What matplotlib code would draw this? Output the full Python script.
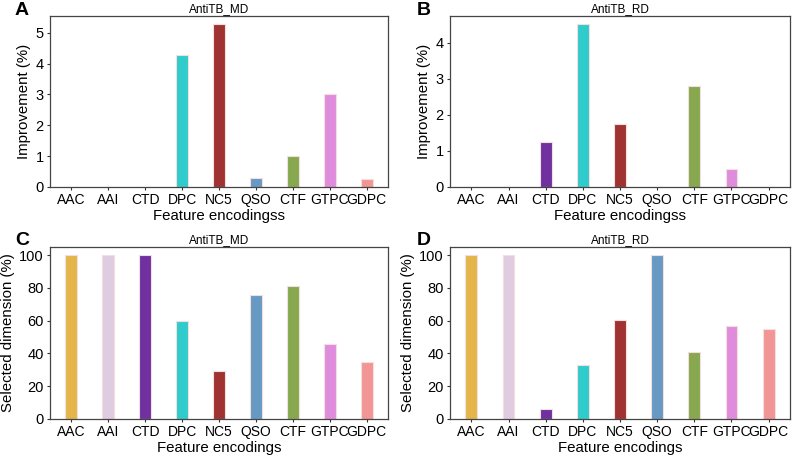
import matplotlib.pyplot as plt
import numpy as np

plt.rcParams['font.family'] = ['Liberation Sans', 'DejaVu Sans']

encodings = ['AAC', 'AAI', 'CTD', 'DPC', 'NC5', 'QSO', 'CTF', 'GTPC', 'GDPC']
colors = ['#E3B54A', '#DFCCE0', '#7030A0', '#30CCCC', '#A03232',
          '#6699C4', '#88A84F', '#E08CDC', '#F29595']

improve_md = [0, 0, 0, 4.27, 5.28, 0.30, 1.00, 3.00, 0.25]
improve_rd = [0, 0, 1.26, 4.52, 1.76, 0, 2.80, 0.50, 0]
dim_md = [100, 100, 100, 60, 29, 76, 81, 45.5, 35]
dim_rd = [100, 100, 6, 33, 60.5, 100, 41, 56.5, 55]

fig = plt.figure(figsize=(7.93, 4.57), dpi=100)

W, H = 793, 457
def box(l, r, t, b):
    return [l / W, 1 - b / H, (r - l) / W, (b - t) / H]

panels = [
    ('A', 'AntiTB_MD', improve_md, range(0, 6), 'Improvement (%)', 'Feature encodingss', box(50, 388, 16, 187), 15, 2),
    ('B', 'AntiTB_RD', improve_rd, range(0, 5), 'Improvement (%)', 'Feature encodingss', box(450, 790, 16, 187), 417, 2),
    ('C', 'AntiTB_MD', dim_md, range(0, 101, 20), 'Selected dimension (%)', 'Feature encodings', box(50, 388, 247, 419), 15, 232),
    ('D', 'AntiTB_RD', dim_rd, range(0, 101, 20), 'Selected dimension (%)', 'Feature encodings', box(450, 790, 247, 419), 417, 232),
]

for letter, title, vals, yt, ylab, xlab, rect, lx, ly in panels:
    ax = fig.add_axes(rect)
    x = np.arange(len(encodings))
    ax.bar(x, vals, width=0.32, color=colors, edgecolor='#f4dede', linewidth=0.8)
    ax.set_xticks(x)
    ax.set_xticklabels(encodings, fontsize=10)
    ax.set_yticks(list(yt))
    ax.tick_params(axis='y', labelsize=10.5)
    ax.tick_params(length=2.5, width=0.8, color='#333333', pad=2)
    ax.set_title(title, fontsize=8.5, pad=3)
    ax.set_ylabel(ylab, fontsize=10.8, labelpad=3)
    ax.set_xlabel(xlab, fontsize=10.8, labelpad=1)
    for s in ax.spines.values():
        s.set_color('#444444')
        s.set_linewidth(0.9)
    fig.text(lx / W, 1 - ly / H, letter, fontsize=14, fontweight='bold', va='top', ha='left')

fig.savefig('out.png', dpi=100)
